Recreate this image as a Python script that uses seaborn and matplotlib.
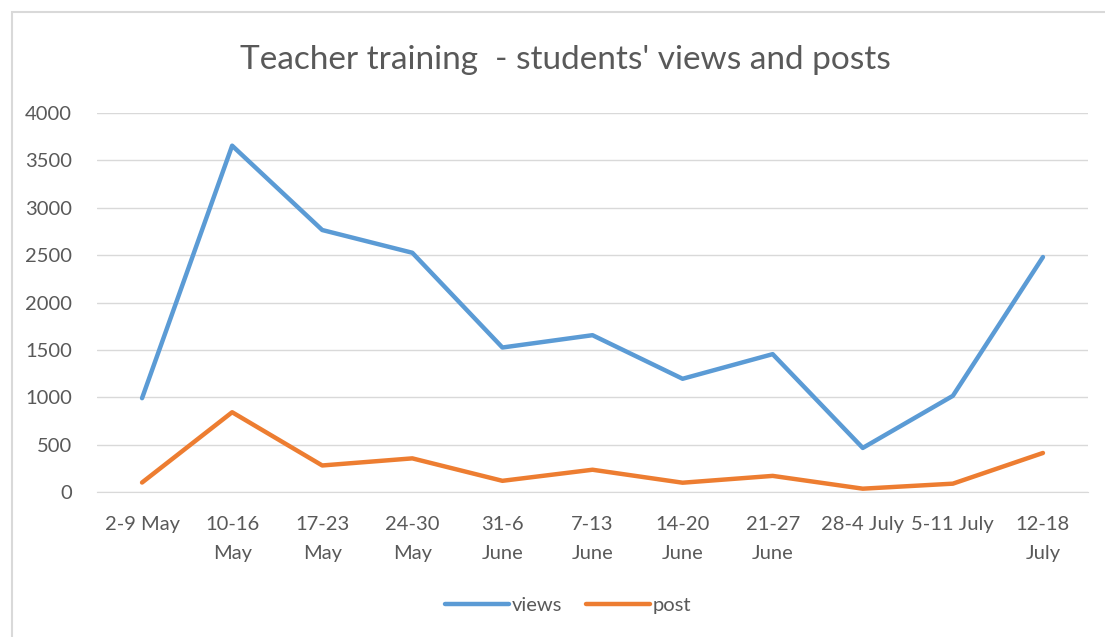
import pandas as pd
import matplotlib.pyplot as plt
import matplotlib.patches as mpatches
import seaborn as sns

# =====================================================
# DATA
# =====================================================

weeks = [
    "2-9 May", "10-16\nMay", "17-23\nMay", "24-30\nMay", "31-6\nJune",
    "7-13\nJune", "14-20\nJune", "21-27\nJune", "28-4 July", "5-11 July",
    "12-18\nJuly",
]
views = [990, 3655, 2765, 2525, 1525, 1655, 1195, 1455, 465, 1015, 2480]
post = [100, 842, 280, 355, 118, 235, 98, 170, 35, 88, 412]

df = pd.DataFrame({
    "week": weeks * 2,
    "value": views + post,
    "series": ["views"] * len(weeks) + ["post"] * len(weeks),
})
df["pos"] = list(range(len(weeks))) * 2

# =====================================================
# PLOT
# =====================================================

sns.set_style("white")
plt.rcParams["font.family"] = ["Lato", "DejaVu Sans"]

fig = plt.figure(figsize=(11.05, 6.37), dpi=100)
ax = fig.add_axes([97 / 1105, 1 - 492 / 637, (1088 - 97) / 1105, (492 - 113) / 637])

# chart border
fig.patches.append(mpatches.Rectangle(
    (12 / 1105, -0.01), 1.0, 1 - 12 / 637 + 0.01,
    transform=fig.transFigure, fill=False, edgecolor="#D9D9D9", linewidth=1.5
))

sns.lineplot(
    data=df,
    x="pos",
    y="value",
    hue="series",
    palette={"views": "#5B9BD5", "post": "#ED7D31"},
    linewidth=3.2,
    ax=ax,
    legend=False,
)

ax.set_xlim(-0.5, len(weeks) - 0.5)
ax.set_ylim(0, 4000)
ax.set_yticks(range(0, 4001, 500))
ax.set_xticks(range(len(weeks)))
ax.set_xticklabels(weeks, fontsize=14.5, color="#595959", linespacing=1.9, va="top")
ax.tick_params(axis="y", labelsize=14.5, labelcolor="#595959", length=0, pad=18)
ax.tick_params(axis="x", length=0, pad=17)
ax.set_xlabel("")
ax.set_ylabel("")

ax.grid(axis="y", color="#D9D9D9", linewidth=1)
ax.set_axisbelow(True)
for s in ["top", "right", "left"]:
    ax.spines[s].set_visible(False)
ax.spines["bottom"].set_color("#D9D9D9")

fig.text(565 / 1105, 1 - 60 / 637, "Teacher training  - students' views and posts",
         ha="center", va="center", fontsize=24, color="#595959")

handles = [
    plt.Line2D([0], [0], color="#5B9BD5", linewidth=3.2),
    plt.Line2D([0], [0], color="#ED7D31", linewidth=3.2),
]
fig.legend(handles, ["views", "post"], loc="center", bbox_to_anchor=(568 / 1105, 1 - 605 / 637),
           ncol=2, frameon=False, fontsize=14.5, handlelength=3.2, handletextpad=0.1,
           columnspacing=1.2, labelcolor="#595959")

plt.savefig("out.png", dpi=100)
